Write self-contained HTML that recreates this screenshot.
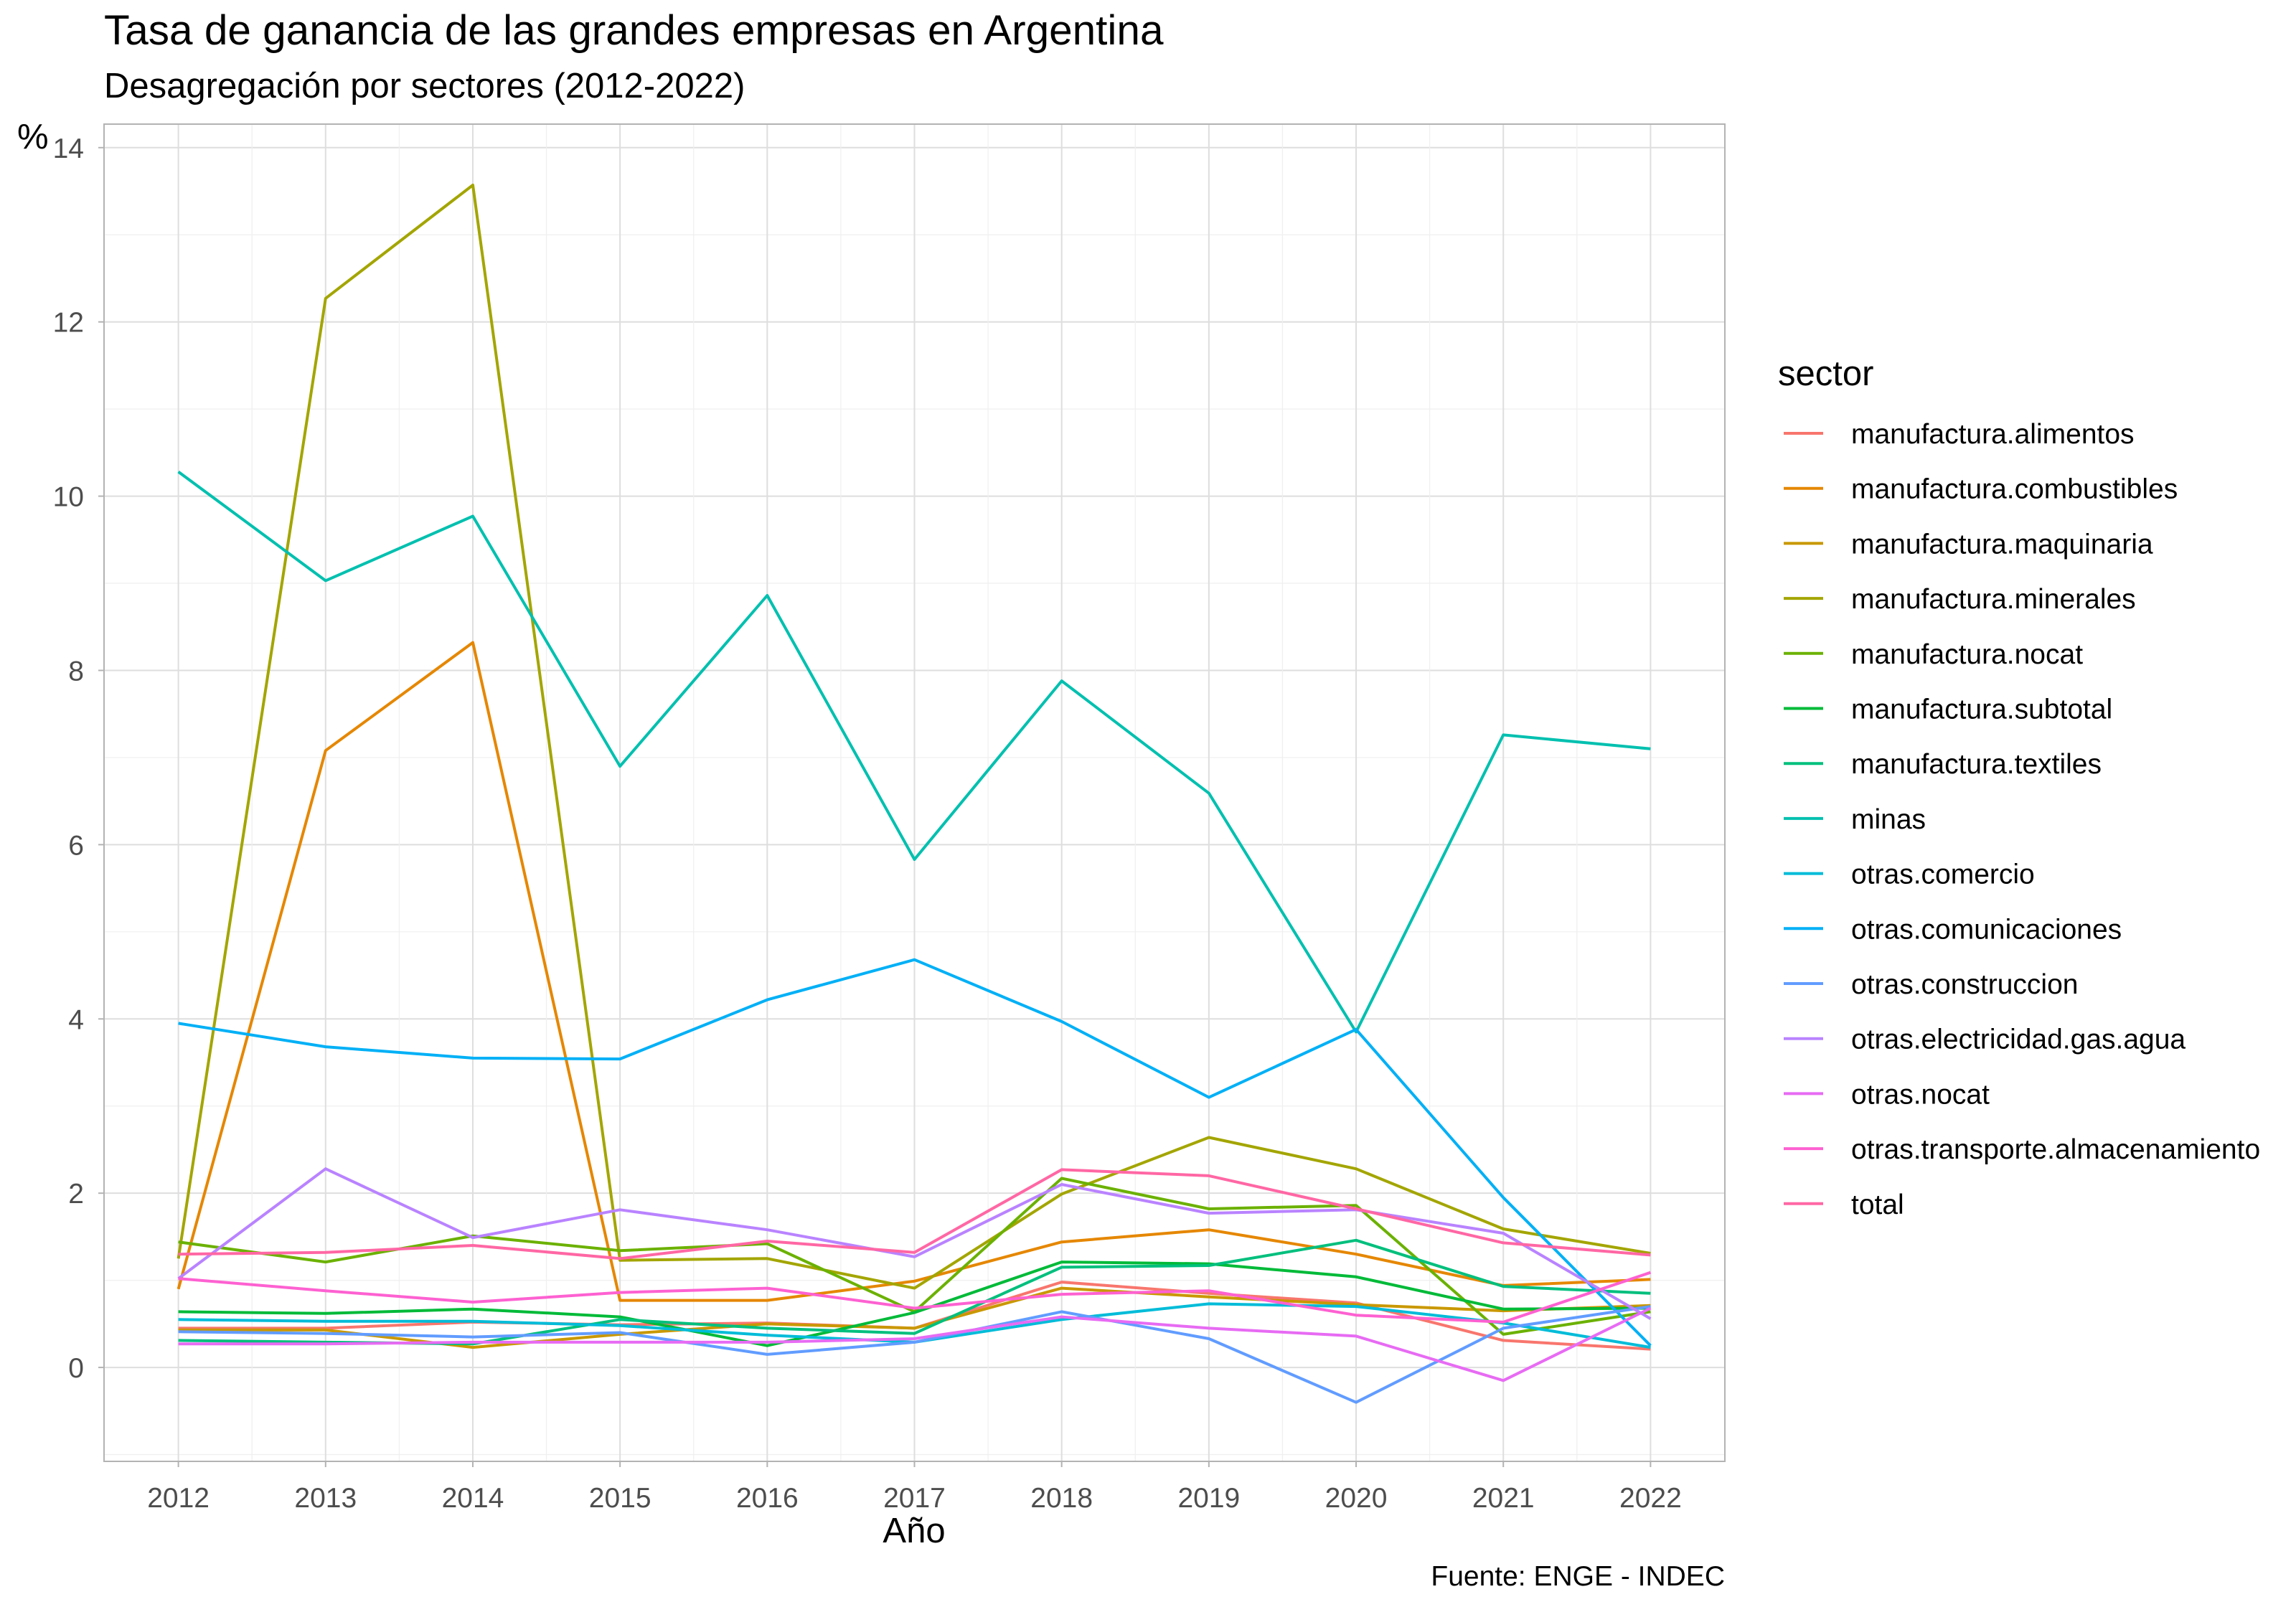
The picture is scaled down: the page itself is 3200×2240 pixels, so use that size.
<!DOCTYPE html>
<html><head><meta charset="utf-8"><style>
html,body{margin:0;padding:0;background:#fff;}
svg{display:block;font-family:"Liberation Sans",Arial,sans-serif;}
</style></head><body>
<svg id="chart" width="3200" height="2240" viewBox="0 0 3200 2240" xmlns="http://www.w3.org/2000/svg">
<rect width="3200" height="2240" fill="#fff"/>
<text x="145" y="62" font-size="58.5" fill="#000">Tasa de ganancia de las grandes empresas en Argentina</text>
<text x="145" y="136" font-size="49" fill="#000">Desagregación por sectores (2012-2022)</text>
<text x="24" y="207" font-size="49" fill="#000">%</text>
<g id="grid"></g>
<g id="series"></g>
<rect x="145" y="173" width="2259" height="1864" fill="none" stroke="#b3b3b3" stroke-width="2"/>
<g id="yticks"></g>
<g id="xticks"></g>
<text x="1274" y="2150" font-size="49" text-anchor="middle" fill="#000">Año</text>
<text x="2404" y="2210" font-size="39" text-anchor="end" fill="#000">Fuente: ENGE - INDEC</text>
<text x="2478" y="537" font-size="49" fill="#000">sector</text>
<g id="legend"></g>
</svg>
<script>
const years = [2012,2013,2014,2015,2016,2017,2018,2019,2020,2021,2022];
const yTicks = [0,2,4,6,8,10,12,14];
const sectors = ["manufactura.alimentos","manufactura.combustibles","manufactura.maquinaria","manufactura.minerales","manufactura.nocat","manufactura.subtotal","manufactura.textiles","minas","otras.comercio","otras.comunicaciones","otras.construccion","otras.electricidad.gas.agua","otras.nocat","otras.transporte.almacenamiento","total"];
const colors = ["#F8766D","#E58700","#C99800","#A3A500","#6BB100","#00BA38","#00BF7D","#00C0AF","#00BCD8","#00B0F6","#619CFF","#B983FF","#E76BF3","#FD61D1","#FF67A4"];
const alimentos = [0.45,0.45,0.52,0.49,0.51,0.45,0.98,0.85,0.74,0.31,0.21];
const combustibles = [0.90,7.08,8.32,0.77,0.77,0.99,1.44,1.58,1.30,0.94,1.01];
const maquinaria = [0.43,0.43,0.23,0.38,0.50,0.45,0.91,0.81,0.72,0.65,0.71];
const minerales = [1.25,12.27,13.57,1.23,1.25,0.91,1.99,2.64,2.28,1.59,1.31];
const manNocat = [1.44,1.21,1.51,1.34,1.42,0.64,2.17,1.82,1.86,0.38,0.64];
const subtotal = [0.64,0.62,0.67,0.58,0.25,0.63,1.21,1.19,1.04,0.67,0.68];
const textiles = [0.31,0.29,0.27,0.55,0.45,0.39,1.15,1.17,1.46,0.93,0.85];
const minas = [10.28,9.03,9.77,6.90,8.86,5.83,7.88,6.59,3.85,7.26,7.10];
const comercio = [0.55,0.53,0.53,0.48,0.37,0.29,0.55,0.73,0.70,0.51,0.23];
const comunicaciones = [3.95,3.68,3.55,3.54,4.22,4.68,3.97,3.10,3.88,1.95,0.25];
const construccion = [0.41,0.39,0.35,0.40,0.15,0.29,0.64,0.33,-0.40,0.45,0.70];
const electricidad = [1.02,2.28,1.49,1.81,1.58,1.27,2.10,1.77,1.81,1.54,0.56];
const otrasNocat = [0.27,0.27,0.29,0.29,0.29,0.33,0.58,0.45,0.36,-0.15,0.68];
const transporte = [1.02,0.88,0.75,0.86,0.91,0.68,0.84,0.88,0.60,0.52,1.09];
const total = [1.30,1.32,1.40,1.25,1.45,1.32,2.27,2.20,1.82,1.43,1.29];
const seriesData = [alimentos,combustibles,maquinaria,minerales,manNocat,subtotal,textiles,minas,comercio,comunicaciones,construccion,electricidad,otrasNocat,transporte,total];

const NS = "http://www.w3.org/2000/svg";
const L=145,R=2404,T=173,B=2037;
const xMin=2011.495,xMax=2022.505,yMin=-1.078,yMax=14.27;
const xs = v => L + (v-xMin)/(xMax-xMin)*(R-L);
const ys = v => B - (v-yMin)/(yMax-yMin)*(B-T);
function mk(tag, attrs, parent, text){const e=document.createElementNS(NS,tag);for(const k in attrs)e.setAttribute(k,attrs[k]);if(text!==undefined)e.textContent=text;parent.appendChild(e);return e;}

const grid=document.getElementById('grid');
for(let v=-1;v<=14;v+=1){
  const ln=mk('line',{x1:L,x2:R,y1:ys(v),y2:ys(v),stroke:(v%2===0)?'#dedede':'#efefef','stroke-width':(v%2===0)?2:1.2},grid);
  
  
}
for(let i=0;i<years.length;i++){
  const ln=mk('line',{x1:xs(years[i]),x2:xs(years[i]),y1:T,y2:B,stroke:'#dedede','stroke-width':2},grid);
  
  
  if(i<years.length-1){
    const m=mk('line',{x1:xs(years[i]+0.5),x2:xs(years[i]+0.5),y1:T,y2:B,stroke:'#efefef','stroke-width':1.2},grid);
    
    
  }
}
const yt=document.getElementById('yticks');
yTicks.forEach(v=>{
  const t=mk('text',{x:117,y:ys(v)+14,'font-size':39,'text-anchor':'end',fill:'#4d4d4d'},yt,String(v));
  
  
  mk('line',{x1:L-8,x2:L,y1:ys(v),y2:ys(v),stroke:'#b3b3b3','stroke-width':2},yt);
});
const xt=document.getElementById('xticks');
years.forEach(v=>{
  const t=mk('text',{x:xs(v),y:2101,'font-size':39,'text-anchor':'middle',fill:'#4d4d4d'},xt,String(v));
  
  
  mk('line',{x1:xs(v),x2:xs(v),y1:B,y2:B+8,stroke:'#b3b3b3','stroke-width':2},xt);
});
const sg=document.getElementById('series');
const lg=document.getElementById('legend');
seriesData.forEach((d,i)=>{
  const pts=d.map((v,j)=>xs(years[j]).toFixed(1)+','+ys(v).toFixed(1)).join(' ');
  const pl=mk('polyline',{points:pts,fill:'none',stroke:colors[i],'stroke-width':4,'stroke-linejoin':'round'},sg);
  
  
  const cy=604+i*76.7;
  const g=mk('g',{},lg);
  
  
  mk('line',{x1:2486,x2:2541,y1:cy,y2:cy,stroke:colors[i],'stroke-width':4},g);
  mk('text',{x:2580,y:cy+14,'font-size':39,fill:'#000'},g,sectors[i]);
});
</script>
</body></html>
